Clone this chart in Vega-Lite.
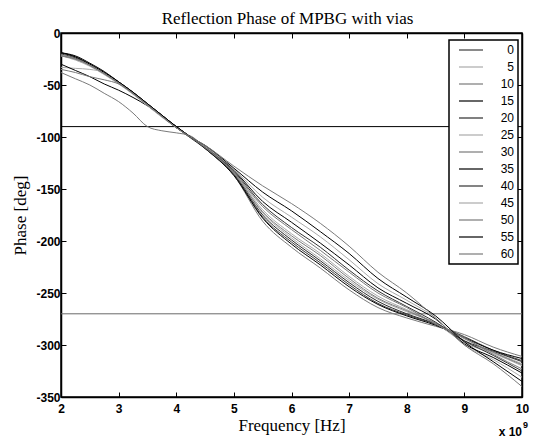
{
 "$schema": "https://vega.github.io/schema/vega-lite/v6.json",
 "width": 461, "height": 364,
 "autosize": "none",
 "padding": {"left": 61, "top": 33, "right": 16, "bottom": 45},
 "background": "white",
 "title": {"text": "Reflection Phase of MPBG with vias", "font": "Liberation Serif", "fontSize": 17, "fontWeight": "normal", "color": "black", "offset": -1, "anchor": "middle", "dx": -4},
 "config": {
  "view": {"stroke": "black", "strokeWidth": 1.5},
  "axis": {"domainColor": "black", "domainWidth": 1.5, "tickColor": "black", "tickSize": -5, "tickWidth": 1, "grid": false,
           "labelFont": "Liberation Sans", "labelFontSize": 12, "labelFontWeight": "bold", "labelColor": "black",
           "titleFont": "Liberation Serif", "titleFontSize": 17, "titleFontWeight": "normal", "titleColor": "black"}
 },
 "datasets": {
  "curves": [
   {"v":"0","f":2,"p":-19},{"v":"0","f":2.25,"p":-23},{"v":"0","f":2.5,"p":-30},{"v":"0","f":2.75,"p":-38},{"v":"0","f":3,"p":-47},{"v":"0","f":3.25,"p":-57},{"v":"0","f":3.5,"p":-68},{"v":"0","f":3.75,"p":-79},{"v":"0","f":4,"p":-90},{"v":"0","f":4.25,"p":-100},{"v":"0","f":4.5,"p":-110},{"v":"0","f":5,"p":-136},{"v":"0","f":5.5,"p":-177},{"v":"0","f":6,"p":-201},{"v":"0","f":6.5,"p":-221},{"v":"0","f":7,"p":-242},{"v":"0","f":7.5,"p":-260},{"v":"0","f":8,"p":-271},{"v":"0","f":8.5,"p":-280},{"v":"0","f":9,"p":-292},{"v":"0","f":9.5,"p":-305},{"v":"0","f":10,"p":-315},
   {"v":"5","f":2,"p":-33},{"v":"5","f":2.25,"p":-34},{"v":"5","f":2.5,"p":-35},{"v":"5","f":2.75,"p":-38},{"v":"5","f":3,"p":-47},{"v":"5","f":3.25,"p":-58},{"v":"5","f":3.5,"p":-69},{"v":"5","f":3.75,"p":-80},{"v":"5","f":4,"p":-91},{"v":"5","f":4.25,"p":-100},{"v":"5","f":4.5,"p":-110},{"v":"5","f":5,"p":-135},{"v":"5","f":5.5,"p":-173},{"v":"5","f":6,"p":-197},{"v":"5","f":6.5,"p":-217},{"v":"5","f":7,"p":-238},{"v":"5","f":7.5,"p":-256},{"v":"5","f":8,"p":-268},{"v":"5","f":8.5,"p":-279},{"v":"5","f":9,"p":-297},{"v":"5","f":9.5,"p":-307},{"v":"5","f":10,"p":-318},
   {"v":"10","f":2,"p":-38},{"v":"10","f":2.25,"p":-44},{"v":"10","f":2.5,"p":-50},{"v":"10","f":2.75,"p":-58},{"v":"10","f":3,"p":-66},{"v":"10","f":3.25,"p":-77},{"v":"10","f":3.5,"p":-90},{"v":"10","f":3.75,"p":-94},{"v":"10","f":4,"p":-96},{"v":"10","f":4.25,"p":-99},{"v":"10","f":4.5,"p":-111},{"v":"10","f":5,"p":-137},{"v":"10","f":5.5,"p":-181},{"v":"10","f":6,"p":-206},{"v":"10","f":6.5,"p":-226},{"v":"10","f":7,"p":-247},{"v":"10","f":7.5,"p":-264},{"v":"10","f":8,"p":-274},{"v":"10","f":8.5,"p":-282},{"v":"10","f":9,"p":-290},{"v":"10","f":9.5,"p":-302},{"v":"10","f":10,"p":-311},
   {"v":"15","f":2,"p":-30},{"v":"15","f":2.25,"p":-36},{"v":"15","f":2.5,"p":-42},{"v":"15","f":2.75,"p":-49},{"v":"15","f":3,"p":-55},{"v":"15","f":3.25,"p":-62},{"v":"15","f":3.5,"p":-70},{"v":"15","f":3.75,"p":-80},{"v":"15","f":4,"p":-90},{"v":"15","f":4.25,"p":-100},{"v":"15","f":4.5,"p":-111},{"v":"15","f":5,"p":-137},{"v":"15","f":5.5,"p":-178},{"v":"15","f":6,"p":-203},{"v":"15","f":6.5,"p":-223},{"v":"15","f":7,"p":-244},{"v":"15","f":7.5,"p":-261},{"v":"15","f":8,"p":-272},{"v":"15","f":8.5,"p":-281},{"v":"15","f":9,"p":-293},{"v":"15","f":9.5,"p":-305},{"v":"15","f":10,"p":-313},
   {"v":"20","f":2,"p":-21},{"v":"20","f":2.25,"p":-25},{"v":"20","f":2.5,"p":-31},{"v":"20","f":2.75,"p":-39},{"v":"20","f":3,"p":-48},{"v":"20","f":3.25,"p":-58},{"v":"20","f":3.5,"p":-69},{"v":"20","f":3.75,"p":-80},{"v":"20","f":4,"p":-91},{"v":"20","f":4.25,"p":-101},{"v":"20","f":4.5,"p":-111},{"v":"20","f":5,"p":-136},{"v":"20","f":5.5,"p":-175},{"v":"20","f":6,"p":-199},{"v":"20","f":6.5,"p":-219},{"v":"20","f":7,"p":-240},{"v":"20","f":7.5,"p":-258},{"v":"20","f":8,"p":-270},{"v":"20","f":8.5,"p":-280},{"v":"20","f":9,"p":-296},{"v":"20","f":9.5,"p":-306},{"v":"20","f":10,"p":-316},
   {"v":"25","f":2,"p":-22},{"v":"25","f":2.25,"p":-26},{"v":"25","f":2.5,"p":-32},{"v":"25","f":2.75,"p":-40},{"v":"25","f":3,"p":-49},{"v":"25","f":3.25,"p":-59},{"v":"25","f":3.5,"p":-70},{"v":"25","f":3.75,"p":-81},{"v":"25","f":4,"p":-91},{"v":"25","f":4.25,"p":-100},{"v":"25","f":4.5,"p":-110},{"v":"25","f":5,"p":-134},{"v":"25","f":5.5,"p":-170},{"v":"25","f":6,"p":-193},{"v":"25","f":6.5,"p":-212},{"v":"25","f":7,"p":-234},{"v":"25","f":7.5,"p":-253},{"v":"25","f":8,"p":-266},{"v":"25","f":8.5,"p":-279},{"v":"25","f":9,"p":-298},{"v":"25","f":9.5,"p":-308},{"v":"25","f":10,"p":-320},
   {"v":"30","f":2,"p":-35},{"v":"30","f":2.25,"p":-38},{"v":"30","f":2.5,"p":-42},{"v":"30","f":2.75,"p":-45},{"v":"30","f":3,"p":-49},{"v":"30","f":3.25,"p":-58},{"v":"30","f":3.5,"p":-69},{"v":"30","f":3.75,"p":-80},{"v":"30","f":4,"p":-91},{"v":"30","f":4.25,"p":-100},{"v":"30","f":4.5,"p":-110},{"v":"30","f":5,"p":-135},{"v":"30","f":5.5,"p":-172},{"v":"30","f":6,"p":-195},{"v":"30","f":6.5,"p":-214},{"v":"30","f":7,"p":-236},{"v":"30","f":7.5,"p":-255},{"v":"30","f":8,"p":-267},{"v":"30","f":8.5,"p":-279},{"v":"30","f":9,"p":-294},{"v":"30","f":9.5,"p":-307},{"v":"30","f":10,"p":-319},
   {"v":"35","f":2,"p":-19},{"v":"35","f":2.25,"p":-23},{"v":"35","f":2.5,"p":-30},{"v":"35","f":2.75,"p":-38},{"v":"35","f":3,"p":-47},{"v":"35","f":3.25,"p":-57},{"v":"35","f":3.5,"p":-68},{"v":"35","f":3.75,"p":-79},{"v":"35","f":4,"p":-90},{"v":"35","f":4.25,"p":-100},{"v":"35","f":4.5,"p":-109},{"v":"35","f":5,"p":-132},{"v":"35","f":5.5,"p":-162},{"v":"35","f":6,"p":-182},{"v":"35","f":6.5,"p":-202},{"v":"35","f":7,"p":-223},{"v":"35","f":7.5,"p":-245},{"v":"35","f":8,"p":-260},{"v":"35","f":8.5,"p":-275},{"v":"35","f":9,"p":-299},{"v":"35","f":9.5,"p":-312},{"v":"35","f":10,"p":-327},
   {"v":"40","f":2,"p":-20},{"v":"40","f":2.25,"p":-24},{"v":"40","f":2.5,"p":-31},{"v":"40","f":2.75,"p":-39},{"v":"40","f":3,"p":-48},{"v":"40","f":3.25,"p":-58},{"v":"40","f":3.5,"p":-69},{"v":"40","f":3.75,"p":-80},{"v":"40","f":4,"p":-91},{"v":"40","f":4.25,"p":-100},{"v":"40","f":4.5,"p":-110},{"v":"40","f":5,"p":-133},{"v":"40","f":5.5,"p":-165},{"v":"40","f":6,"p":-187},{"v":"40","f":6.5,"p":-206},{"v":"40","f":7,"p":-228},{"v":"40","f":7.5,"p":-248},{"v":"40","f":8,"p":-263},{"v":"40","f":8.5,"p":-278},{"v":"40","f":9,"p":-296},{"v":"40","f":9.5,"p":-310},{"v":"40","f":10,"p":-325},
   {"v":"45","f":2,"p":-21},{"v":"45","f":2.25,"p":-25},{"v":"45","f":2.5,"p":-31},{"v":"45","f":2.75,"p":-39},{"v":"45","f":3,"p":-48},{"v":"45","f":3.25,"p":-58},{"v":"45","f":3.5,"p":-69},{"v":"45","f":3.75,"p":-80},{"v":"45","f":4,"p":-91},{"v":"45","f":4.25,"p":-100},{"v":"45","f":4.5,"p":-109},{"v":"45","f":5,"p":-131},{"v":"45","f":5.5,"p":-158},{"v":"45","f":6,"p":-177},{"v":"45","f":6.5,"p":-196},{"v":"45","f":7,"p":-218},{"v":"45","f":7.5,"p":-241},{"v":"45","f":8,"p":-257},{"v":"45","f":8.5,"p":-274},{"v":"45","f":9,"p":-300},{"v":"45","f":9.5,"p":-314},{"v":"45","f":10,"p":-331},
   {"v":"50","f":2,"p":-22},{"v":"50","f":2.25,"p":-25},{"v":"50","f":2.5,"p":-31},{"v":"50","f":2.75,"p":-39},{"v":"50","f":3,"p":-48},{"v":"50","f":3.25,"p":-58},{"v":"50","f":3.5,"p":-69},{"v":"50","f":3.75,"p":-80},{"v":"50","f":4,"p":-91},{"v":"50","f":4.25,"p":-100},{"v":"50","f":4.5,"p":-110},{"v":"50","f":5,"p":-134},{"v":"50","f":5.5,"p":-167},{"v":"50","f":6,"p":-189},{"v":"50","f":6.5,"p":-209},{"v":"50","f":7,"p":-230},{"v":"50","f":7.5,"p":-250},{"v":"50","f":8,"p":-264},{"v":"50","f":8.5,"p":-280},{"v":"50","f":9,"p":-293},{"v":"50","f":9.5,"p":-309},{"v":"50","f":10,"p":-323},
   {"v":"55","f":2,"p":-19},{"v":"55","f":2.25,"p":-22},{"v":"55","f":2.5,"p":-29},{"v":"55","f":2.75,"p":-37},{"v":"55","f":3,"p":-47},{"v":"55","f":3.25,"p":-57},{"v":"55","f":3.5,"p":-68},{"v":"55","f":3.75,"p":-79},{"v":"55","f":4,"p":-90},{"v":"55","f":4.25,"p":-100},{"v":"55","f":4.5,"p":-108},{"v":"55","f":5,"p":-130},{"v":"55","f":5.5,"p":-153},{"v":"55","f":6,"p":-171},{"v":"55","f":6.5,"p":-191},{"v":"55","f":7,"p":-212},{"v":"55","f":7.5,"p":-236},{"v":"55","f":8,"p":-254},{"v":"55","f":8.5,"p":-272},{"v":"55","f":9,"p":-297},{"v":"55","f":9.5,"p":-316},{"v":"55","f":10,"p":-335},
   {"v":"60","f":2,"p":-22},{"v":"60","f":2.25,"p":-25},{"v":"60","f":2.5,"p":-31},{"v":"60","f":2.75,"p":-39},{"v":"60","f":3,"p":-48},{"v":"60","f":3.25,"p":-58},{"v":"60","f":3.5,"p":-69},{"v":"60","f":3.75,"p":-80},{"v":"60","f":4,"p":-91},{"v":"60","f":4.25,"p":-100},{"v":"60","f":4.5,"p":-108},{"v":"60","f":5,"p":-128},{"v":"60","f":5.5,"p":-147},{"v":"60","f":6,"p":-164},{"v":"60","f":6.5,"p":-183},{"v":"60","f":7,"p":-205},{"v":"60","f":7.5,"p":-230},{"v":"60","f":8,"p":-250},{"v":"60","f":8.5,"p":-274},{"v":"60","f":9,"p":-300},{"v":"60","f":9.5,"p":-318},{"v":"60","f":10,"p":-340}
  ],
  "refs": [{"p": -90, "k": "a"}, {"p": -270, "k": "b"}],
  "notes": [{"base": "x 10", "sup": "9", "f": 10, "p": -350}]
 },
 "layer": [
  {
   "data": {"name": "refs"},
   "mark": {"type": "rule", "strokeWidth": 1},
   "encoding": {
    "x": {"datum": 2, "type": "quantitative", "axis": {"orient": "top", "values": [2,3,4,5,6,7,8,9,10], "labels": false, "title": null}},
    "x2": {"datum": 10},
    "y": {"field": "p", "type": "quantitative", "axis": {"orient": "right", "values": [-350,-300,-250,-200,-150,-100,-50,0], "labels": false, "title": null}},
    "color": {"field": "k", "type": "nominal", "scale": {"domain": ["a","b"], "range": ["#000000", "#6a6a6a"]}, "legend": null}
   }
  },
  {
   "data": {"name": "curves"},
   "mark": {"type": "line", "strokeWidth": 1, "interpolate": "monotone"},
   "encoding": {
    "x": {"field": "f", "type": "quantitative", "scale": {"domain": [2, 10], "nice": false, "zero": false},
          "axis": {"orient": "bottom", "values": [2,3,4,5,6,7,8,9,10], "title": "Frequency [Hz]", "labelPadding": 11, "labelDx": 5, "labelFlush": false, "titlePadding": 3}},
    "y": {"field": "p", "type": "quantitative", "scale": {"domain": [-350, 0], "nice": false, "zero": false},
          "axis": {"orient": "left", "values": [-350,-300,-250,-200,-150,-100,-50,0], "labelExpr": "'' + datum.value", "labelPadding": 6, "labelFlush": false, "title": "Phase [deg]", "titlePadding": 6}},
    "stroke": {"field": "v", "type": "nominal",
      "scale": {"domain": ["0","5","10","15","20","25","30","35","40","45","50","55","60"],
                "range": ["#3c3c3c","#aaaaaa","#7a7a7a","#000000","#2a2a2a","#aaaaaa","#7a7a7a","#000000","#333333","#aaaaaa","#7a7a7a","#000000","#7a7a7a"]},
      "legend": {"orient": "none", "legendX": 388, "legendY": 7, "title": null, "direction": "vertical",
                 "symbolType": "M-3,0H3", "symbolSize": 64, "symbolStrokeWidth": 1.2, "symbolOffset": 12,
                 "labelAlign": "right", "labelOffset": 37, "labelFont": "Liberation Sans", "labelFontSize": 12, "labelColor": "black",
                 "strokeColor": "black", "fillColor": "white", "padding": 4, "rowPadding": 5,
                 "encode": {"legend": {"update": {"strokeWidth": {"value": 1.5}}}}}}
   }
  },
  {
   "data": {"name": "notes"},
   "mark": {"type": "text", "font": "Liberation Sans", "fontSize": 12, "fontWeight": "bold", "align": "right", "baseline": "middle", "dx": 0, "dy": 35, "color": "black"},
   "encoding": {"x": {"field": "f", "type": "quantitative", "axis": null}, "y": {"field": "p", "type": "quantitative", "axis": null}, "text": {"field": "base"}}
  },
  {
   "data": {"name": "notes"},
   "mark": {"type": "text", "font": "Liberation Sans", "fontSize": 9, "fontWeight": "bold", "align": "left", "baseline": "middle", "dx": 1, "dy": 28, "color": "black"},
   "encoding": {"x": {"field": "f", "type": "quantitative", "axis": null}, "y": {"field": "p", "type": "quantitative", "axis": null}, "text": {"field": "sup"}}
  }
 ]
}
